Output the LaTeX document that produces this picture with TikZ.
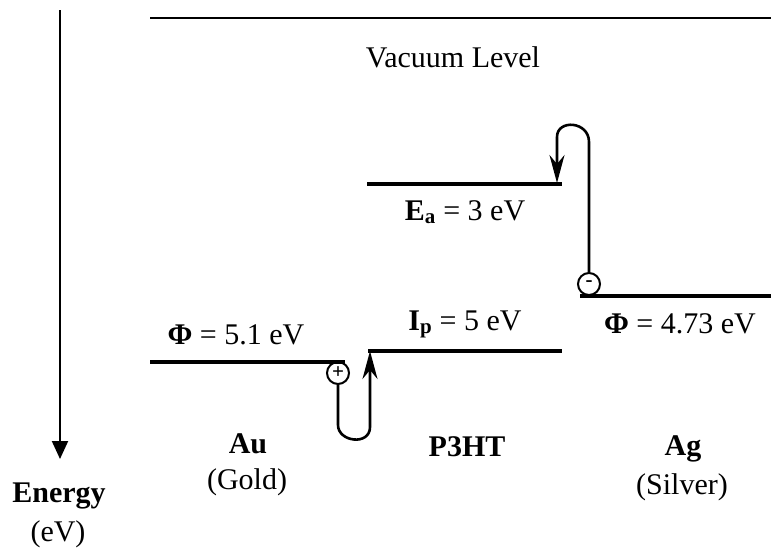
\documentclass[tikz,border=0pt]{standalone}
\usepackage{fontspec}
\setmainfont{Liberation Serif}
\usetikzlibrary{arrows.meta}
\tikzset{
  lbl/.style={anchor=base,inner sep=0pt,font=\fontsize{30}{36}\selectfont},
  blbl/.style={lbl,font=\fontsize{30}{36}\selectfont\bfseries},
  level/.style={line width=3.5pt},
  loopline/.style={line width=2.6pt},
  charge/.style={circle,draw,line width=2pt,minimum size=22pt,inner sep=0pt,font=\fontsize{21}{21}\selectfont\bfseries},
  tip/.style={-{Stealth[length=28pt,width=15pt,inset=9pt]}}
}
\begin{document}
\begin{tikzpicture}[x=1pt,y=-1pt]
\useasboundingbox (0,0) rectangle (771,547);
% energy axis
\coordinate (etop) at (60,10);
\coordinate (ebot) at (60,459);
\draw[line width=2pt,-{Triangle[length=18pt,width=16pt]}] (etop) -- (ebot);
\node[blbl] (energy) at (59,502) {Energy};
\node[lbl] (ev) at (58,541) {(eV)};
% vacuum level
\coordinate (v1) at (150,18);
\coordinate (v2) at (771,18);
\draw[line width=2pt] (v1) -- (v2);
\node[lbl] (vac) at (453,67) {Vacuum Level};
% Au
\coordinate (au1) at (150,362);
\coordinate (au2) at (345,362);
\draw[level] (au1) -- (au2);
\node[lbl] (phiau) at (236,344) {\textbf{Φ} = 5.1 eV};
\node[blbl] (au) at (248,453) {Au};
\node[lbl] (gold) at (247,489) {(Gold)};
% P3HT
\coordinate (ip1) at (368,351);
\coordinate (ip2) at (562,351);
\draw[level] (ip1) -- (ip2);
\coordinate (ea1) at (367,184);
\coordinate (ea2) at (562,184);
\draw[level] (ea1) -- (ea2);
\node[lbl] (ip) at (465,330) {\textbf{I\textsubscript{p}} = 5 eV};
\node[lbl] (ea) at (465,220) {\textbf{E\textsubscript{a}} = 3 eV};
\node[blbl] (p3ht) at (467,456) {P3HT};
% Ag
\coordinate (ag1) at (580,296);
\coordinate (ag2) at (771,296);
\draw[level] (ag1) -- (ag2);
\node[lbl] (phiag) at (680,333) {\textbf{Φ} = 4.73 eV};
\node[blbl] (ag) at (683,455) {Ag};
\node[lbl] (silver) at (682,494) {(Silver)};
% charges
\node[charge] (plus) at (338,373) {+};
\node[charge] (minus) at (589,284) {-};
% hole loop
\coordinate (hend) at (370,351);
\draw[loopline,tip] (plus.south) -- (338,425) .. controls (338,442) and (370,446) .. (370,427) -- (hend);
% electron loop
\coordinate (eend) at (557,183);
\draw[loopline,tip] (minus.north) -- (589,142) .. controls (589,121) and (557,119) .. (557,137) -- (eend);
\end{tikzpicture}
\end{document}
